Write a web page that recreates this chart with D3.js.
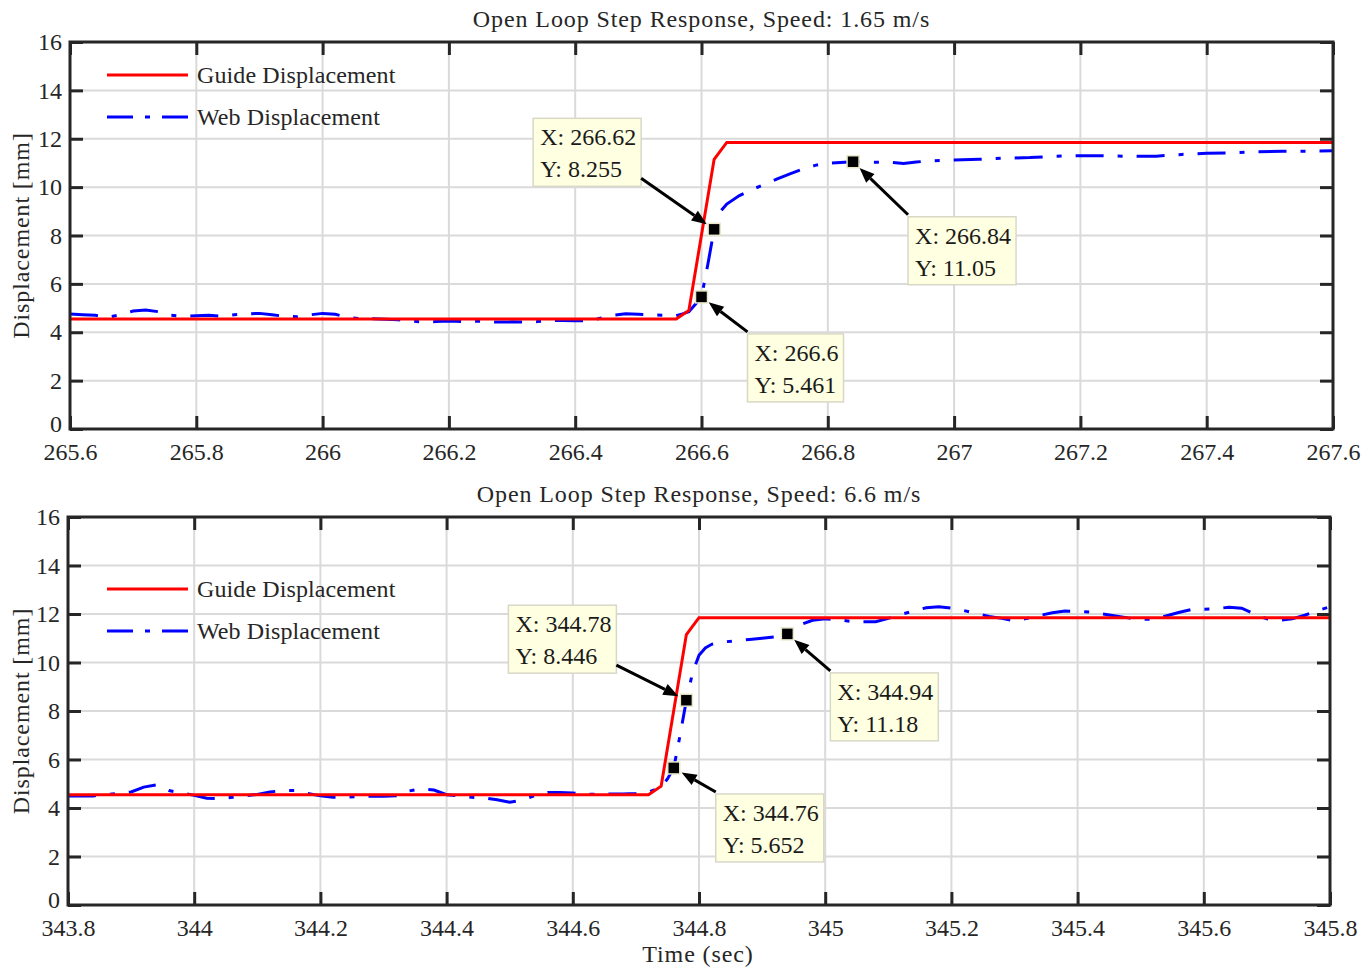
<!DOCTYPE html>
<html lang="en">
<head>
<meta charset="utf-8">
<script src="https://d3js.org/d3.v7.min.js"></script>
<style>
body { margin: 0; background: #fff; }
text { font-family: "Liberation Serif", "DejaVu Serif", serif; fill: #262626; font-size: 24px; }
.title { letter-spacing: 0.9px; }
.ylab { letter-spacing: 0.9px; }
.legend text { letter-spacing: 0.1px; }
.tip text { fill: #1a1a1a; }
</style>
</head>
<body>
<script>

// ---- data ----
var yTicks = [0, 2, 4, 6, 8, 10, 12, 14, 16];
var xTicksTop = [265.6, 265.8, 266, 266.2, 266.4, 266.6, 266.8, 267, 267.2, 267.4, 267.6];
var xTicksBot = [343.8, 344, 344.2, 344.4, 344.6, 344.8, 345, 345.2, 345.4, 345.6, 345.8];

var guideTopT = [265.6, 266.56, 266.58, 266.62, 266.64, 267.6];
var guideTopY = [4.55, 4.55, 4.9, 11.15, 11.85, 11.85];
var guideBotT = [343.8, 344.72, 344.74, 344.78, 344.80, 345.8];
var guideBotY = [4.55, 4.55, 4.9, 11.15, 11.85, 11.85];

var webTopT = [265.60, 265.62, 265.64, 265.66, 265.68, 265.70, 265.72, 265.74, 265.76, 265.78,
  265.80, 265.82, 265.84, 265.86, 265.88, 265.90, 265.92, 265.94, 265.96, 265.98,
  266.00, 266.02, 266.04, 266.06, 266.08, 266.10, 266.12, 266.14, 266.16, 266.18,
  266.20, 266.22, 266.24, 266.26, 266.28, 266.30, 266.32, 266.34, 266.36, 266.38,
  266.40, 266.42, 266.44, 266.46, 266.48, 266.50, 266.52, 266.54, 266.56, 266.57,
  266.58, 266.59, 266.60, 266.61, 266.62, 266.63, 266.64, 266.66, 266.68, 266.70,
  266.72, 266.74, 266.76, 266.78, 266.80, 266.82, 266.84, 266.86, 266.88, 266.90,
  266.92, 266.94, 266.96, 266.98, 267.00, 267.04, 267.08, 267.12, 267.16, 267.20,
  267.24, 267.28, 267.32, 267.36, 267.40, 267.44, 267.48, 267.52, 267.56, 267.60];
var webTopY = [4.75, 4.72, 4.70, 4.62, 4.72, 4.88, 4.92, 4.85, 4.70, 4.66,
  4.68, 4.70, 4.66, 4.72, 4.76, 4.78, 4.72, 4.66, 4.64, 4.72,
  4.78, 4.74, 4.62, 4.56, 4.56, 4.54, 4.52, 4.46, 4.42, 4.44,
  4.47, 4.44, 4.46, 4.44, 4.42, 4.43, 4.42, 4.44, 4.48, 4.49,
  4.48, 4.47, 4.58, 4.70, 4.76, 4.74, 4.72, 4.70, 4.68, 4.76,
  4.85, 5.15, 5.461, 6.8, 8.255, 9.0, 9.3, 9.65, 9.9, 10.12,
  10.34, 10.55, 10.74, 10.9, 10.99, 11.02, 11.05, 11.04, 11.03, 11.02,
  10.98, 11.04, 11.08, 11.1, 11.12, 11.15, 11.2, 11.22, 11.28, 11.3,
  11.3, 11.27, 11.28, 11.35, 11.4, 11.42, 11.46, 11.48, 11.48, 11.5];

var webBotT = [343.80, 343.82, 343.84, 343.86, 343.88, 343.90, 343.92, 343.94, 343.96, 343.98,
  344.00, 344.02, 344.04, 344.06, 344.08, 344.10, 344.12, 344.14, 344.16, 344.18,
  344.20, 344.22, 344.24, 344.26, 344.28, 344.30, 344.32, 344.34, 344.36, 344.38,
  344.40, 344.42, 344.44, 344.46, 344.48, 344.50, 344.52, 344.54, 344.56, 344.58,
  344.60, 344.62, 344.64, 344.66, 344.68, 344.70, 344.72, 344.74, 344.75, 344.76,
  344.77, 344.78, 344.79, 344.80, 344.81, 344.82, 344.84, 344.86, 344.88, 344.90,
  344.92, 344.94, 344.96, 344.98, 345.00, 345.02, 345.04, 345.06, 345.08, 345.10,
  345.12, 345.14, 345.16, 345.18, 345.20, 345.22, 345.24, 345.26, 345.28, 345.30,
  345.32, 345.34, 345.36, 345.38, 345.40, 345.42, 345.44, 345.46, 345.48, 345.50,
  345.52, 345.54, 345.56, 345.58, 345.60, 345.62, 345.64, 345.66, 345.68, 345.70,
  345.72, 345.74, 345.76, 345.78, 345.80];
var webBotY = [4.50, 4.50, 4.50, 4.55, 4.60, 4.66, 4.86, 4.95, 4.72, 4.62,
  4.52, 4.40, 4.38, 4.44, 4.50, 4.56, 4.66, 4.72, 4.72, 4.60,
  4.50, 4.44, 4.44, 4.48, 4.48, 4.48, 4.50, 4.70, 4.80, 4.74,
  4.55, 4.50, 4.44, 4.42, 4.34, 4.24, 4.32, 4.52, 4.64, 4.64,
  4.62, 4.57, 4.56, 4.58, 4.58, 4.60, 4.66, 4.85, 5.2, 5.652,
  7.0, 8.446, 9.6, 10.3, 10.6, 10.75, 10.85, 10.9, 10.95, 11.0,
  11.06, 11.18, 11.55, 11.74, 11.8, 11.76, 11.7, 11.68, 11.68, 11.82,
  11.98, 12.12, 12.26, 12.3, 12.24, 12.14, 12.02, 11.9, 11.82, 11.72,
  11.82, 11.94, 12.05, 12.12, 12.1, 12.08, 12.0, 11.92, 11.84, 11.78,
  11.78, 11.92, 12.06, 12.18, 12.2, 12.22, 12.28, 12.24, 12.0, 11.8,
  11.74, 11.8, 11.95, 12.14, 12.3];

// data tips (x, y values)
var tipsTopX = [266.62, 266.6, 266.84];
var tipsTopY = [8.255, 5.461, 11.05];
var tipsBotX = [344.78, 344.76, 344.94];
var tipsBotY = [8.446, 5.652, 11.18];

var seriesNames = ["Guide Displacement", "Web Displacement"];

// ---- layout ----
var W = 1364, H = 967;
var svg = d3.select("body").append("svg")
  .attr("width", W)
  .attr("height", H);

var panels = [
  { left: 70, right: 1333, top: 42, bottom: 429, xTicks: xTicksTop,
    title: "Open Loop Step Response, Speed: 1.65 m/s",
    guideT: guideTopT, guideY: guideTopY, webT: webTopT, webY: webTopY,
    tipX: tipsTopX, tipY: tipsTopY,
    // box offsets relative to the marker (px)
    tipBox: [[-181, -111], [46, 37], [55, 55]],
    legendY: [75, 117] },
  { left: 68, right: 1330, top: 517, bottom: 905, xTicks: xTicksBot,
    title: "Open Loop Step Response, Speed: 6.6 m/s",
    guideT: guideBotT, guideY: guideBotY, webT: webBotT, webY: webBotY,
    tipX: tipsBotX, tipY: tipsBotY,
    tipBox: [[-178, -95], [42, 26], [43, 39]],
    legendY: [589, 631] }
];

var red = "#ff0000", blue = "#0000ff", axisCol = "#262626";

panels.forEach(function(p, pi) {
  var x = d3.scaleLinear()
    .domain([p.xTicks[0], p.xTicks[p.xTicks.length - 1]])
    .range([p.left, p.right]);
  var y = d3.scaleLinear().domain([0, 16]).range([p.bottom, p.top]);

  var g = svg.append("g");

  // clip
  svg.append("clipPath").attr("id", "clip" + pi)
    .append("rect")
    .attr("x", p.left).attr("y", p.top)
    .attr("width", p.right - p.left).attr("height", p.bottom - p.top);

  // grid lines
  g.selectAll(".gx").data(p.xTicks.slice(1, -1)).enter().append("line")
    .attr("x1", function(d) { return x(d); }).attr("x2", function(d) { return x(d); })
    .attr("y1", p.top).attr("y2", p.bottom)
    .attr("stroke", "#dadada").attr("stroke-width", 2);
  g.selectAll(".gy").data(yTicks.slice(1, -1)).enter().append("line")
    .attr("y1", function(d) { return y(d); }).attr("y2", function(d) { return y(d); })
    .attr("x1", p.left).attr("x2", p.right)
    .attr("stroke", "#dadada").attr("stroke-width", 2);

  var line = d3.line()
    .x(function(d) { return x(d[0]); })
    .y(function(d) { return y(d[1]); });

  var lines = g.append("g").attr("clip-path", "url(#clip" + pi + ")");

  lines.append("path")
    .datum(d3.zip(p.webT, p.webY))
    .attr("d", line)
    .attr("fill", "none")
    .attr("stroke", blue)
    .attr("stroke-width", 3)
    .attr("stroke-dasharray", "28,14,5,14");

  lines.append("path")
    .datum(d3.zip(p.guideT, p.guideY))
    .attr("d", line)
    .attr("fill", "none")
    .attr("stroke", red)
    .attr("stroke-width", 3);

  // axes with inward ticks on all four sides
  var tl = 13;
  var xAxisB = d3.axisBottom(x).tickValues(p.xTicks).tickSize(-tl).tickPadding(14)
    .tickFormat(d3.format(""));
  var xAxisT = d3.axisTop(x).tickValues(p.xTicks).tickSize(-tl).tickFormat("");
  var yAxisL = d3.axisLeft(y).tickValues(yTicks).tickSize(-tl).tickPadding(8);
  var yAxisR = d3.axisRight(y).tickValues(yTicks).tickSize(-tl).tickFormat("");

  [
    [xAxisB, "translate(0," + p.bottom + ")"],
    [xAxisT, "translate(0," + p.top + ")"],
    [yAxisL, "translate(" + p.left + ",0)"],
    [yAxisR, "translate(" + p.right + ",0)"]
  ].forEach(function(a) {
    var ax = g.append("g").attr("transform", a[1]).call(a[0]);
    ax.attr("font-family", null).attr("font-size", null);
    ax.select(".domain").remove();
    ax.selectAll(".tick line").attr("stroke", axisCol).attr("stroke-width", 3);
    ax.selectAll(".tick text").attr("fill", axisCol);
    if (a[0] === yAxisL) {
      // lift the "0" a little so it clears the first x label in the corner
      ax.selectAll(".tick text").filter(function(d) { return d === 0; })
        .attr("y", -5);
    }
  });

  // box
  g.append("rect")
    .attr("x", p.left).attr("y", p.top)
    .attr("width", p.right - p.left).attr("height", p.bottom - p.top)
    .attr("fill", "none").attr("stroke", axisCol).attr("stroke-width", 3);

  // title
  svg.append("text")
    .attr("class", "title")
    .attr("x", (p.left + p.right) / 2)
    .attr("y", p.top - 15)
    .attr("text-anchor", "middle")
    .text(p.title);

  // y label
  svg.append("text")
    .attr("class", "ylab")
    .attr("transform", "translate(29," + (p.top + p.bottom) / 2 + ") rotate(-90)")
    .attr("text-anchor", "middle")
    .text("Displacement [mm]");

  // legend
  var leg = svg.append("g").attr("class", "legend");
  leg.append("line")
    .attr("x1", 107).attr("x2", 188).attr("y1", p.legendY[0]).attr("y2", p.legendY[0])
    .attr("stroke", red).attr("stroke-width", 3);
  leg.append("line")
    .attr("x1", 107).attr("x2", 188).attr("y1", p.legendY[1]).attr("y2", p.legendY[1])
    .attr("stroke", blue).attr("stroke-width", 3)
    .attr("stroke-dasharray", "26,12,5,12");
  leg.selectAll(".lt").data(seriesNames).enter().append("text")
    .attr("x", 197)
    .attr("y", function(d, i) { return p.legendY[i] + 8; })
    .text(function(d) { return d; });

  // data tips
  p.tipX.forEach(function(tx, i) {
    var mx = x(tx), my = y(p.tipY[i]);
    var bx = mx + p.tipBox[i][0], by = my + p.tipBox[i][1];
    var tg = svg.append("g").attr("class", "tip");
    var rect = tg.append("rect")
      .attr("fill", "#ffffe1").attr("stroke", "#d8d8c8").attr("stroke-width", 1.5);
    var t1 = tg.append("text").attr("x", bx + 7).attr("y", by + 27).text("X: " + tx);
    var t2 = tg.append("text").attr("x", bx + 7).attr("y", by + 59).text("Y: " + p.tipY[i]);
    var w = Math.max(t1.node().getComputedTextLength(), t2.node().getComputedTextLength()) + 12;
    var h = 68;
    rect.attr("x", bx).attr("y", by).attr("width", w).attr("height", h);

    // arrow from the box corner nearest to the marker
    var sx = bx < mx ? bx + w : bx;
    var sy = by < my ? by + h - 8 : by - 2;
    var dx = mx - sx, dy = my - sy, len = Math.sqrt(dx * dx + dy * dy);
    var ux = dx / len, uy = dy / len;
    var ex = mx - ux * 9, ey = my - uy * 9;
    var hl = 15, hw = 6;
    var bxh = ex - ux * hl, byh = ey - uy * hl;
    tg.append("line")
      .attr("x1", sx).attr("y1", sy).attr("x2", bxh).attr("y2", byh)
      .attr("stroke", "#000").attr("stroke-width", 3);
    tg.append("path")
      .attr("d", "M" + ex + "," + ey +
        "L" + (bxh - uy * hw) + "," + (byh + ux * hw) +
        "L" + (bxh + uy * hw) + "," + (byh - ux * hw) + "Z")
      .attr("fill", "#000");

    // marker
    tg.append("rect")
      .attr("x", mx - 6).attr("y", my - 6).attr("width", 12).attr("height", 12)
      .attr("fill", "#000").attr("stroke", "#e8e8c8").attr("stroke-width", 1.5);
  });
});

// x label
svg.append("text")
  .attr("class", "title")
  .attr("x", 698)
  .attr("y", 962)
  .attr("text-anchor", "middle")
  .text("Time (sec)");

</script>
</body>
</html>
